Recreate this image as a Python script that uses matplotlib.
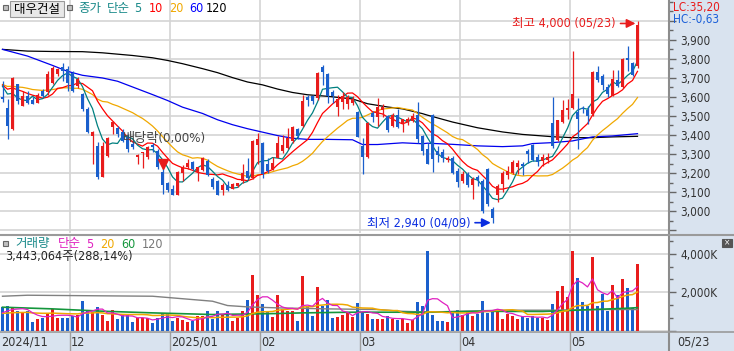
import matplotlib
matplotlib.use('Agg')
import matplotlib.pyplot as plt
import matplotlib.font_manager as fm
import matplotlib.transforms as mtransforms
from matplotlib.patches import Rectangle
from matplotlib.lines import Line2D
from matplotlib.ticker import MultipleLocator
import numpy as np
import pandas as pd

# daily candles 2024/11/12 .. 2025/05/23 (price in KRW, volume in K shares)
opens = [3600, 3544, 3431, 3666, 3553, 3605, 3583, 3570, 3630, 3623,
         3675, 3718, 3757, 3748, 3727, 3657, 3614, 3536, 3393, 3341,
         3179, 3292, 3440, 3435, 3414, 3388, 3353, 3287, 3305, 3283,
         3350, 3318, 3205, 3150, 3118, 3087, 3200, 3231, 3257, 3205,
         3214, 3266, 3170, 3159, 3112, 3140, 3119, 3130, 3159, 3211,
         3177, 3345, 3359, 3246, 3220, 3281, 3316, 3333, 3368, 3432,
         3446, 3597, 3602, 3594, 3759, 3721, 3625, 3547, 3573, 3564,
         3568, 3521, 3342, 3284, 3516, 3495, 3533, 3502, 3446, 3507,
         3463, 3467, 3472, 3507, 3397, 3325, 3503, 3317, 3311, 3270,
         3277, 3212, 3160, 3198, 3140, 3180, 3160, 3220, 3010, 3085,
         3143, 3190, 3200, 3230, 3250, 3317, 3348, 3285, 3261, 3270,
         3461, 3374, 3470, 3530, 3543, 3520, 3543, 3529, 3508, 3729,
         3708, 3652, 3607, 3690, 3652, 3803, 3779, 3760]
highs = [3683, 3588, 3705, 3670, 3631, 3631, 3597, 3622, 3640, 3736,
         3762, 3753, 3776, 3762, 3736, 3705, 3622, 3545, 3422, 3365,
         3362, 3388, 3475, 3445, 3431, 3405, 3370, 3301, 3313, 3344,
         3360, 3327, 3265, 3155, 3139, 3209, 3243, 3275, 3266, 3231,
         3283, 3275, 3179, 3162, 3150, 3159, 3150, 3150, 3246, 3281,
         3376, 3411, 3362, 3281, 3284, 3394, 3402, 3437, 3446, 3437,
         3611, 3611, 3611, 3733, 3768, 3724, 3637, 3611, 3624, 3611,
         3603, 3524, 3385, 3467, 3524, 3594, 3564, 3507, 3516, 3538,
         3475, 3495, 3516, 3571, 3402, 3360, 3510, 3343, 3325, 3290,
         3290, 3225, 3212, 3208, 3180, 3192, 3170, 3225, 3020, 3143,
         3212, 3240, 3268, 3270, 3260, 3325, 3352, 3300, 3300, 3305,
         3598, 3481, 3586, 3590, 3843, 3595, 3552, 3552, 3734, 3763,
         3722, 3665, 3739, 3743, 3803, 3868, 3783, 4000]
lows = [3575, 3379, 3427, 3560, 3550, 3562, 3560, 3568, 3600, 3612,
        3666, 3710, 3683, 3631, 3625, 3648, 3527, 3413, 3250, 3170,
        3179, 3283, 3405, 3388, 3362, 3313, 3327, 3250, 3226, 3275,
        3310, 3222, 3092, 3100, 3083, 3083, 3160, 3222, 3214, 3160,
        3209, 3183, 3118, 3083, 3086, 3105, 3116, 3125, 3150, 3168,
        3171, 3246, 3177, 3203, 3215, 3281, 3307, 3325, 3359, 3377,
        3443, 3550, 3560, 3585, 3663, 3568, 3568, 3502, 3536, 3536,
        3555, 3387, 3194, 3280, 3467, 3446, 3495, 3415, 3443, 3437,
        3415, 3455, 3467, 3359, 3293, 3247, 3206, 3256, 3256, 3256,
        3195, 3125, 3150, 3128, 3065, 3130, 2990, 3025, 2940, 3047,
        3099, 3170, 3195, 3195, 3190, 3255, 3265, 3240, 3240, 3255,
        3334, 3369, 3465, 3482, 3534, 3325, 3515, 3456, 3500, 3677,
        3638, 3600, 3603, 3652, 3647, 3734, 3710, 3752]
closes = [3588, 3445, 3701, 3579, 3605, 3570, 3562, 3610, 3605, 3718,
          3753, 3744, 3736, 3675, 3631, 3692, 3536, 3417, 3417, 3179,
          3344, 3384, 3466, 3405, 3370, 3327, 3336, 3296, 3311, 3339,
          3335, 3231, 3139, 3110, 3087, 3205, 3228, 3254, 3222, 3231,
          3280, 3188, 3127, 3086, 3137, 3110, 3145, 3147, 3203, 3177,
          3371, 3377, 3194, 3211, 3255, 3359, 3350, 3383, 3441, 3397,
          3580, 3585, 3577, 3724, 3733, 3603, 3603, 3590, 3603, 3597,
          3589, 3390, 3284, 3463, 3495, 3547, 3547, 3425, 3507, 3443,
          3484, 3485, 3502, 3377, 3316, 3250, 3272, 3296, 3277, 3280,
          3203, 3151, 3195, 3140, 3170, 3162, 3003, 3040, 2965, 3135,
          3200, 3210, 3259, 3252, 3238, 3299, 3270, 3256, 3282, 3287,
          3343, 3478, 3530, 3540, 3617, 3485, 3534, 3500, 3729, 3690,
          3664, 3617, 3696, 3656, 3798, 3795, 3716, 3977]
volumes = [1230, 1265, 1230, 1005, 953, 1005, 433, 607, 641, 918,
           1126, 641, 641, 641, 780, 797, 1525, 1040, 953, 1230,
           832, 485, 1092, 607, 797, 832, 433, 641, 641, 641,
           399, 641, 918, 918, 485, 641, 572, 433, 485, 780,
           780, 1040, 607, 1005, 832, 1005, 485, 659, 1005, 1577,
           2912, 1872, 1404, 1005, 711, 1872, 1127, 1040, 1005, 485,
           2826, 1265, 745, 2253, 1265, 1612, 659, 711, 832, 953,
           711, 1421, 953, 884, 607, 607, 607, 745, 607, 537,
           607, 399, 572, 1473, 1265, 4150, 832, 520, 520, 433,
           1005, 1057, 832, 1005, 745, 884, 1560, 918, 1092, 1092,
           624, 866, 745, 606, 780, 658, 745, 658, 658, 537,
           1386, 2080, 2340, 1733, 4125, 2720, 1473, 1300, 3813, 1300,
           1924, 1005, 2357, 1872, 2704, 2200, 1178, 3443]

# sessions before the visible window (needed for the short moving averages)
prior_closes = [3650, 3680, 3660, 3640, 3670, 3690, 3660, 3650, 3680, 3700,
                3660, 3640, 3670, 3690, 3680, 3650, 3680, 3700, 3660]
prior_volumes = [900, 850, 950, 800, 900, 1000, 850, 800, 900, 950,
                 850, 800, 900, 850, 900, 800, 850, 900, 850]

# long moving averages
ma60_idx = [0, 5, 10, 13, 16, 20, 23, 26, 30, 33, 36, 40, 43, 46, 49, 52, 55, 58,
            61, 65, 70, 72, 75, 80, 84, 85, 90, 95, 100, 104, 106, 110, 114, 118, 122, 127]
ma60_val = [3849, 3814, 3765, 3734, 3713, 3699, 3682, 3652, 3612, 3581, 3546, 3513,
            3480, 3454, 3433, 3415, 3397, 3383, 3377, 3377, 3375, 3350, 3350, 3359,
            3354, 3357, 3351, 3343, 3339, 3343, 3355, 3360, 3369, 3390, 3395, 3407]
ma120_idx = [0, 5, 10, 16, 20, 26, 30, 33, 36, 40, 43, 46, 49, 52, 55, 58, 61, 65,
             70, 73, 77, 80, 84, 85, 90, 95, 100, 104, 110, 114, 118, 122, 127]
ma120_val = [3849, 3840, 3838, 3837, 3831, 3817, 3805, 3791, 3774, 3748, 3727, 3701,
             3678, 3663, 3641, 3623, 3611, 3603, 3589, 3564, 3547, 3537, 3512, 3504,
             3468, 3438, 3416, 3403, 3391, 3386, 3386, 3390, 3393]
vol60_idx = [0, 10, 20, 30, 42, 55, 60, 70, 80, 85, 95, 108, 113, 118, 125, 127]
vol60_val = [1213, 1126, 1005, 918, 832, 884, 918, 953, 953, 950, 1000, 990, 1040,
             1092, 1160, 1190]
vol120_idx = [0, 5, 30, 42, 45, 49, 55, 65, 75, 80, 85, 100, 110, 120, 127]
vol120_val = [1785, 1837, 1785, 1525, 1300, 1230, 1178, 1126, 1092, 1000, 960,
              1057, 1057, 1092, 1092]

month_starts = [0, 14, 34, 52, 72, 92, 114]
month_labels = ['2024/11', '12', '2025/01', '02', '03', '04', '05']
last_date = '05/23'
price_ticks = list(range(2900, 4001, 100))
high_idx, high_txt = 127, '최고 4,000 (05/23)'
low_idx, low_txt = 98, '최저 2,940 (04/09)'
div_idx, div_txt = 32, '배당락(0,00%)'

RED = '#e81c1c'
BLUE = '#1a5fcc'
LIGHT = '#d9e3ef'
GRID = '#d4d4d4'

names = {f.name for f in fm.fontManager.ttflist}
latin = 'Liberation Sans Narrow' if 'Liberation Sans Narrow' in names else 'DejaVu Sans'
narrow = latin != 'DejaVu Sans'
plt.rcParams['font.family'] = [latin, 'Noto Sans CJK KR', 'DejaVu Sans']
if not narrow:
    plt.rcParams['font.stretch'] = 'condensed'
NUM = 10 if narrow else 8.5   # size of the number labels

W, H = 734, 351
fig = plt.figure(figsize=(W / 100, H / 100), dpi=100)
fig.patch.set_facecolor('white')
fig.patches.append(Rectangle((669 / W, 0), 65 / W, 1, transform=fig.transFigure,
                             facecolor=LIGHT, edgecolor='none', zorder=-10))

def fy(py):
    return 1 - py / H

ax = fig.add_axes([0, fy(233), 669 / W, 233 / H])
vax = fig.add_axes([0, fy(330.5), 669 / W, (330.5 - 236) / H])
dax = fig.add_axes([0, 0, 1, fy(332)])

n = len(closes)
x = np.arange(n)
o = np.array(opens); c = np.array(closes)
hi = np.array(highs); lo = np.array(lows)
up = c >= o
cols = np.where(up, RED, BLUE)

cs = pd.Series(prior_closes + closes)
k = len(prior_closes)
ma5 = cs.rolling(5).mean().iloc[k:].values
ma10 = cs.rolling(10).mean().iloc[k:].values
ma20 = cs.rolling(20).mean().iloc[k:].values

vs = pd.Series(prior_volumes + volumes)
kv = len(prior_volumes)
vma5 = vs.rolling(5).mean().iloc[kv:].values
vma20 = vs.rolling(20).mean().iloc[kv:].values

# ---- price panel
ax.set_xlim(-0.5, 133.3)
ax.set_ylim(2886, 4108)
for m in month_starts[1:]:
    ax.axvline(m - 0.5, color=GRID, lw=1.2, zorder=0)
ax.set_yticks(price_ticks)
ax.set_yticklabels(['' if (t < 3000 or t > 3900) else f'{t:,}' for t in price_ticks])
ax.yaxis.set_minor_locator(MultipleLocator(50))
ax.yaxis.tick_right()
ax.tick_params(axis='y', which='major', length=5, width=1, color='#666',
               labelsize=NUM, labelcolor='#333', pad=3)
ax.tick_params(axis='y', which='minor', length=3, width=1, color='#666')
ax.tick_params(axis='x', bottom=False, labelbottom=False)
ax.grid(axis='y', which='major', color=GRID, lw=1.2, zorder=0)
ax.set_axisbelow(True)
for s in ax.spines.values():
    s.set_visible(False)

ax.plot(ma120_idx, ma120_val, color='black', lw=0.9, zorder=2)
ax.plot(ma60_idx, ma60_val, color='#0000ee', lw=0.9, zorder=2)
ax.plot(x, ma20, color='#f0a800', lw=0.9, zorder=2)
ax.plot(x, ma10, color='#ff0000', lw=0.9, zorder=2)
ax.plot(x, ma5, color='#008080', lw=0.9, zorder=2)

ax.vlines(x, lo, hi, colors=cols, lw=0.9, zorder=3)
ax.bar(x, np.maximum(np.abs(c - o), 4), bottom=np.minimum(o, c), width=0.62,
       color=cols, lw=0, zorder=3)

ax.annotate('', xy=(high_idx - 0.4, hi[high_idx] - 15), xytext=(high_idx - 3.4, hi[high_idx] - 15),
            arrowprops=dict(arrowstyle='-|>', color=RED, lw=1.2, mutation_scale=13,
                            shrinkA=0, shrinkB=0), zorder=5)
ax.text(high_idx - 4.3, hi[high_idx] - 15, high_txt, color=RED, fontsize=9,
        ha='right', va='center', zorder=5)
ax.annotate('', xy=(low_idx - 0.35, lo[low_idx]), xytext=(low_idx - 3.5, lo[low_idx]),
            arrowprops=dict(arrowstyle='-|>', color='#0a2de0', lw=1.2, mutation_scale=13,
                            shrinkA=0, shrinkB=0), zorder=5)
ax.text(low_idx - 4.4, lo[low_idx], low_txt, color='#0a2de0', fontsize=9,
        ha='right', va='center', zorder=5)
ax.plot([div_idx], [3250], marker='v', color=RED, ms=6.5, zorder=5)
ax.text(24.1, 3380, div_txt, color='#444', fontsize=9.5, ha='left', va='center', zorder=5)

# ---- volume panel
vax.set_xlim(ax.get_xlim())
vax.set_ylim(0, 4922)
for m in month_starts[1:]:
    vax.axvline(m - 0.5, color=GRID, lw=1.2, zorder=0)
vax.set_yticks([0, 2000, 4000])
vax.set_yticklabels(['', '2,000K', '4,000K'])
vax.yaxis.set_minor_locator(MultipleLocator(2000 / 3))
vax.yaxis.tick_right()
vax.tick_params(axis='y', which='major', length=5, width=1, color='#666',
                labelsize=NUM, labelcolor='#333', pad=3)
vax.tick_params(axis='y', which='minor', length=3, width=1, color='#666')
vax.tick_params(axis='x', bottom=False, labelbottom=False)
vax.grid(axis='y', which='major', color=GRID, lw=1.2, zorder=0)
vax.set_axisbelow(True)
for s in vax.spines.values():
    s.set_visible(False)
vax.bar(x, volumes, width=0.62, color=cols, lw=0, zorder=2)
vax.plot(vol120_idx, vol120_val, color='#808080', lw=1.0, zorder=3)
vax.plot(vol60_idx, vol60_val, color='#14963c', lw=1.2, zorder=3)
vax.plot(x, vma20, color='#f0a800', lw=1.1, zorder=3)
vax.plot(x, vma5, color='#e020c0', lw=0.9, zorder=3)

# ---- date strip
dax.set_facecolor(LIGHT)
dax.set_xlim(0, 1); dax.set_ylim(0, 1)
dax.set_xticks([]); dax.set_yticks([])
for s in dax.spines.values():
    s.set_visible(False)
trans = mtransforms.blended_transform_factory(ax.transData, dax.transAxes)
for m, lab in zip(month_starts, month_labels):
    if m > 0:
        dax.plot([m - 0.5, m - 0.5], [0, 1], color='#a0a0a0', lw=1, transform=trans)
    dax.text(m - 0.3, 0.45, lab, transform=trans, fontsize=NUM + 0.5, color='#333',
             ha='left', va='center')
dax.text(677 / W, 0.45, last_date, transform=dax.transAxes, fontsize=NUM + 0.5, color='#333',
         ha='left', va='center')

# ---- frame lines
fig.add_artist(Line2D([669 / W, 669 / W], [0, 1], color='#8c8c8c', lw=1.5))
fig.add_artist(Line2D([0, 1], [fy(235), fy(235)], color='#9a9a9a', lw=1.5))
fig.add_artist(Line2D([0, 1], [fy(332), fy(332)], color='#9a9a9a', lw=1.2))

# ---- header texts
def box(x0, y0, w, h, fc, ec):
    fig.patches.append(Rectangle((x0 / W, fy(y0 + h)), w / W, h / H, transform=fig.transFigure,
                                 facecolor=fc, edgecolor=ec, lw=0.8, zorder=6))

box(3, 5, 5, 5, '#c0c0c0', '#666')
box(10, 1, 54, 16, '#e8e8e8', '#9a9a9a')
box(67, 5, 5, 5, '#c0c0c0', '#666')
fig.text(37 / W, fy(9), '대우건설', fontsize=9, ha='center', va='center', zorder=7)
for px, t, col in [(78, '종가', '#1a8a8a'), (107, '단순', '#1a8a8a'), (134, '5', '#1a8a8a'),
                   (149, '10', '#ff0000'), (169, '20', '#f0a800'), (189, '60', '#0000ff'),
                   (206, '120', 'black')]:
    fig.text(px / W, fy(8.5), t, fontsize=9, color=col, ha='left', va='center', zorder=7)
fig.text(673 / W, fy(7), 'LC:35,20', fontsize=NUM, color=RED, ha='left', va='center')
fig.text(673 / W, fy(19), 'HC:-0,63', fontsize=NUM, color='#1a5fd8', ha='left', va='center')

box(3, 241, 5, 5, '#c0c0c0', '#666')
for px, t, col in [(15, '거래량', '#1a8a8a'), (58, '단순', '#e020c0'), (86, '5', '#e020c0'),
                   (100, '20', '#f0a800'), (121, '60', '#14963c'), (142, '120', '#777')]:
    fig.text(px / W, fy(244), t, fontsize=9, color=col, ha='left', va='center', zorder=7)
fig.text(5 / W, fy(256.5), '3,443,064주(288,14%)', fontsize=9, color='#222',
         ha='left', va='center', zorder=7)
box(722, 239, 10, 8, '#555', '#555')
fig.text(727 / W, fy(243), '×', fontsize=6, color='white', ha='center', va='center', zorder=7)

fig.savefig('out.png', dpi=100)
